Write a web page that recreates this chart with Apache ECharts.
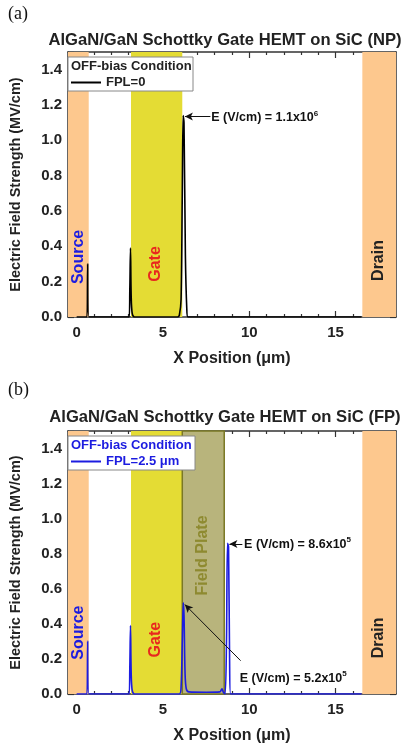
<!DOCTYPE html>
<html>
<head>
<meta charset="utf-8">
<script src="https://cdn.jsdelivr.net/npm/echarts@6/dist/echarts.min.js"></script>
<style>
  html, body { margin: 0; padding: 0; background: #fff; }
  #main { width: 404px; height: 752px; }
</style>
</head>
<body>
<div id="main"></div>
<script>
// ---- data ----
var xRange = [-0.5, 18.5];
var yRange = [0, 1.5];
var xMajor = [0, 5, 10, 15];
var xMinor = [1, 2, 3, 4, 6, 7, 8, 9, 11, 12, 13, 14, 16, 17, 18];

// panel (a) : no field plate
var xA = [0, 0.6, 0.64, 0.68, 0.71, 3.04, 3.08, 3.12, 3.16, 3.22, 3.35, 5.85, 5.95, 6.05, 6.12, 6.17, 6.22, 6.3, 6.38, 6.45, 16.5];
var yA = [0, 0, 0.3, 0.3, 0, 0, 0.15, 0.39, 0.12, 0.02, 0, 0, 0.01, 0.1, 0.7, 1.14, 1.1, 0.35, 0.05, 0, 0];

// panel (b) : field plate 2.5 um
var xB = [0, 0.6, 0.64, 0.68, 0.71, 3.04, 3.08, 3.12, 3.16, 3.22, 3.35, 5.95, 6.05, 6.12, 6.18, 6.22, 6.28, 6.35, 6.5, 7.5, 8.3, 8.42, 8.5, 8.6, 8.68, 8.74, 8.8, 8.86, 8.92, 16.5];
var yB = [0, 0, 0.3, 0.3, 0, 0, 0.15, 0.39, 0.12, 0.02, 0, 0, 0.04, 0.3, 0.52, 0.45, 0.12, 0.03, 0.012, 0.01, 0.012, 0.03, 0.01, 0, 0.3, 0.86, 0.84, 0.2, 0, 0];

// electrode regions (um)
var sourceBand = [-0.5, 0.7];
var gateBand = [3.15, 6.12];
var plateBand = [6.12, 8.55];
var drainBand = [16.55, 18.5];

var seriesNames = ['FPL=0', 'FPL=2.5 μm'];
var titles = ['AlGaN/GaN Schottky Gate HEMT on SiC (NP)', 'AlGaN/GaN Schottky Gate HEMT on SiC (FP)'];

var FONT = '"Liberation Sans", Arial, sans-serif';
var ORANGE = '#fdc88e';
var YELLOW = '#e4dc34';
var PLATE = '#b8b47c';
var PLATE_EDGE = '#7a7824';
var BLUE = '#1c1ce0';

function zip(xs, ys) {
  return xs.map(function (x, i) { return [x, ys[i]]; });
}

function band(r, color, border) {
  return [{ xAxis: r[0], itemStyle: { color: color, borderColor: border || color, borderWidth: border ? 1.5 : 0 } }, { xAxis: r[1] }];
}

// x axes: one with labels + major ticks, one with minor ticks only
function xAxisOf(grid, pos, minor) {
  var main = pos === 'bottom' && !minor;
  return {
    type: 'value', gridIndex: grid, position: pos,
    min: xRange[0], max: xRange[1],
    name: main ? 'X Position (μm)' : '', nameLocation: 'middle', nameGap: 34,
    nameTextStyle: { fontFamily: FONT, fontWeight: 'bold', fontSize: 16, color: '#222' },
    axisLine: { show: !minor, onZero: false, lineStyle: { color: '#333', width: 1.5 } },
    axisTick: { inside: true, length: minor ? 3 : 6, customValues: minor ? xMinor : xMajor, lineStyle: { color: '#333', width: 1.2 } },
    axisLabel: { show: main, margin: 8, customValues: xMajor, fontFamily: FONT, fontWeight: 'bold', fontSize: 15, color: '#222' },
    splitLine: { show: false }
  };
}

function yAxisOf(grid, pos) {
  var main = pos === 'left';
  return {
    type: 'value', gridIndex: grid, position: pos,
    min: yRange[0], max: yRange[1], interval: 0.2,
    name: main ? 'Electric Field Strength (MV/cm)' : '', nameLocation: 'middle', nameGap: 45,
    nameTextStyle: { fontFamily: FONT, fontWeight: 'bold', fontSize: 14.5, color: '#222' },
    axisLine: { onZero: false, lineStyle: { color: '#333', width: 1.5 } },
    axisTick: { inside: true, length: 6, lineStyle: { color: '#333', width: 1.2 } },
    minorTick: { show: true, splitNumber: 2, length: 3, lineStyle: { color: '#333' } },
    axisLabel: { show: main, margin: 6, fontFamily: FONT, fontWeight: 'bold', fontSize: 15, color: '#222',
      formatter: function (v) { return v > 1.45 ? '' : v.toFixed(1); } },
    splitLine: { show: false }
  };
}

var chart = echarts.init(document.getElementById('main'), null, { renderer: 'canvas' });

var xAxes = [];
[0, 1].forEach(function (g) {
  xAxes.push(xAxisOf(g, 'bottom', false), xAxisOf(g, 'bottom', true), xAxisOf(g, 'top', false), xAxisOf(g, 'top', true));
});

var option = {
  animation: false,
  backgroundColor: '#fff',
  grid: [
    { left: 66, top: 52, width: 330, height: 265 },
    { left: 66, top: 431, width: 330, height: 263 }
  ],
  xAxis: xAxes,
  yAxis: [yAxisOf(0, 'left'), yAxisOf(0, 'right'), yAxisOf(1, 'left'), yAxisOf(1, 'right')],
  legend: [
    { data: [seriesNames[0]], left: 70, top: 76, itemWidth: 30, itemHeight: 10, padding: 0, z: 10,
      itemStyle: { opacity: 0 },
      textStyle: { fontFamily: FONT, fontWeight: 'bold', fontSize: 13, color: '#222' } },
    { data: [seriesNames[1]], left: 70, top: 455, itemWidth: 30, itemHeight: 10, padding: 0, z: 10,
      itemStyle: { opacity: 0 },
      textStyle: { fontFamily: FONT, fontWeight: 'bold', fontSize: 13, color: BLUE } }
  ],
  series: [
    {
      name: seriesNames[0], type: 'line', xAxisIndex: 0, yAxisIndex: 0,
      data: zip(xA, yA), symbol: 'none', smooth: 0.3,
      lineStyle: { color: '#000', width: 1.6 }, itemStyle: { color: '#000' },
      markArea: { silent: true, data: [band(sourceBand, ORANGE), band(gateBand, YELLOW), band(drainBand, ORANGE)] },
      markLine: {
        silent: true, symbol: ['none', 'arrow'], symbolSize: [6, 8],
        lineStyle: { color: '#111', width: 1, type: 'solid' }, label: { show: false },
        data: [[{ coord: [7.75, 1.135] }, { coord: [6.27, 1.135] }]]
      }
    },
    {
      name: seriesNames[1], type: 'line', xAxisIndex: 4, yAxisIndex: 2,
      data: zip(xB, yB), symbol: 'none', smooth: 0.3,
      lineStyle: { color: BLUE, width: 1.6 }, itemStyle: { color: BLUE },
      markArea: { silent: true, data: [band(sourceBand, ORANGE), band(gateBand, YELLOW), band(plateBand, PLATE, PLATE_EDGE), band(drainBand, ORANGE)] },
      markLine: {
        silent: true, symbol: ['none', 'arrow'], symbolSize: [6, 8],
        lineStyle: { color: '#111', width: 1, type: 'solid' }, label: { show: false },
        data: [
          [{ coord: [9.6, 0.855] }, { coord: [8.85, 0.855] }],
          [{ coord: [9.5, 0.19] }, { coord: [6.27, 0.51] }]
        ]
      }
    }
  ]
};
chart.setOption(option);

// ---- text overlays, placed through the axes ----
function px(grid, x, y) {
  return chart.convertToPixel({ gridIndex: grid }, [x, y]);
}

function vLabel(grid, x, y, text, color) {
  var p = px(grid, x, y);
  return { type: 'text', x: p[0], y: p[1], rotation: Math.PI / 2, z: 50,
    style: { text: text, fill: color, font: 'bold 16px ' + FONT, align: 'center', verticalAlign: 'middle' } };
}

function note(grid, x, y, base, sup) {
  var p = px(grid, x, y);
  return { type: 'text', x: p[0], y: p[1], z: 50,
    style: { text: base + '{s|' + sup + '}', fill: '#111', font: 'bold 12.5px ' + FONT,
      align: 'left', verticalAlign: 'middle', lineHeight: 16,
      rich: { s: { fontSize: 8, fontWeight: 'bold', fontFamily: FONT, verticalAlign: 'top', lineHeight: 16, fill: '#111' } } } };
}

function legendBox(top, width, color) {
  return [
    { type: 'rect', z: 3, shape: { x: 68, y: top, width: width, height: 34 },
      style: { fill: '#fff', stroke: '#888', lineWidth: 1 } },
    { type: 'text', z: 4, x: 71, y: top + 9,
      style: { text: 'OFF-bias Condition', fill: color, font: 'bold 13px ' + FONT, verticalAlign: 'middle' } }
  ];
}

var graphics = [
  { type: 'text', x: 8, y: 14, style: { text: '(a)', font: '18px "Liberation Serif", serif', fill: '#111', verticalAlign: 'middle' } },
  { type: 'text', x: 8, y: 390, style: { text: '(b)', font: '18px "Liberation Serif", serif', fill: '#111', verticalAlign: 'middle' } },
  { type: 'text', x: 225, y: 40, style: { text: titles[0], font: 'bold 16.6px ' + FONT, fill: '#222', align: 'center', verticalAlign: 'middle' } },
  { type: 'text', x: 225, y: 417, style: { text: titles[1], font: 'bold 16.6px ' + FONT, fill: '#222', align: 'center', verticalAlign: 'middle' } }
]
  .concat(legendBox(57, 125, '#222'))
  .concat(legendBox(436, 127, BLUE))
  .concat([
    vLabel(0, 0.1, 0.34, 'Source', BLUE),
    vLabel(0, 4.6, 0.3, 'Gate', '#e8281e'),
    vLabel(0, 17.5, 0.32, 'Drain', '#222'),
    vLabel(1, 0.1, 0.35, 'Source', BLUE),
    vLabel(1, 4.6, 0.31, 'Gate', '#e8281e'),
    vLabel(1, 7.3, 0.79, 'Field Plate', '#8e8a30'),
    vLabel(1, 17.5, 0.32, 'Drain', '#222'),
    note(0, 7.8, 1.13, 'E (V/cm) = 1.1x10', '6'),
    note(1, 9.7, 0.855, 'E (V/cm) = 8.6x10', '5'),
    note(1, 9.45, 0.09, 'E (V/cm) = 5.2x10', '5')
  ]);

chart.setOption({ graphic: graphics });
</script>
</body>
</html>
